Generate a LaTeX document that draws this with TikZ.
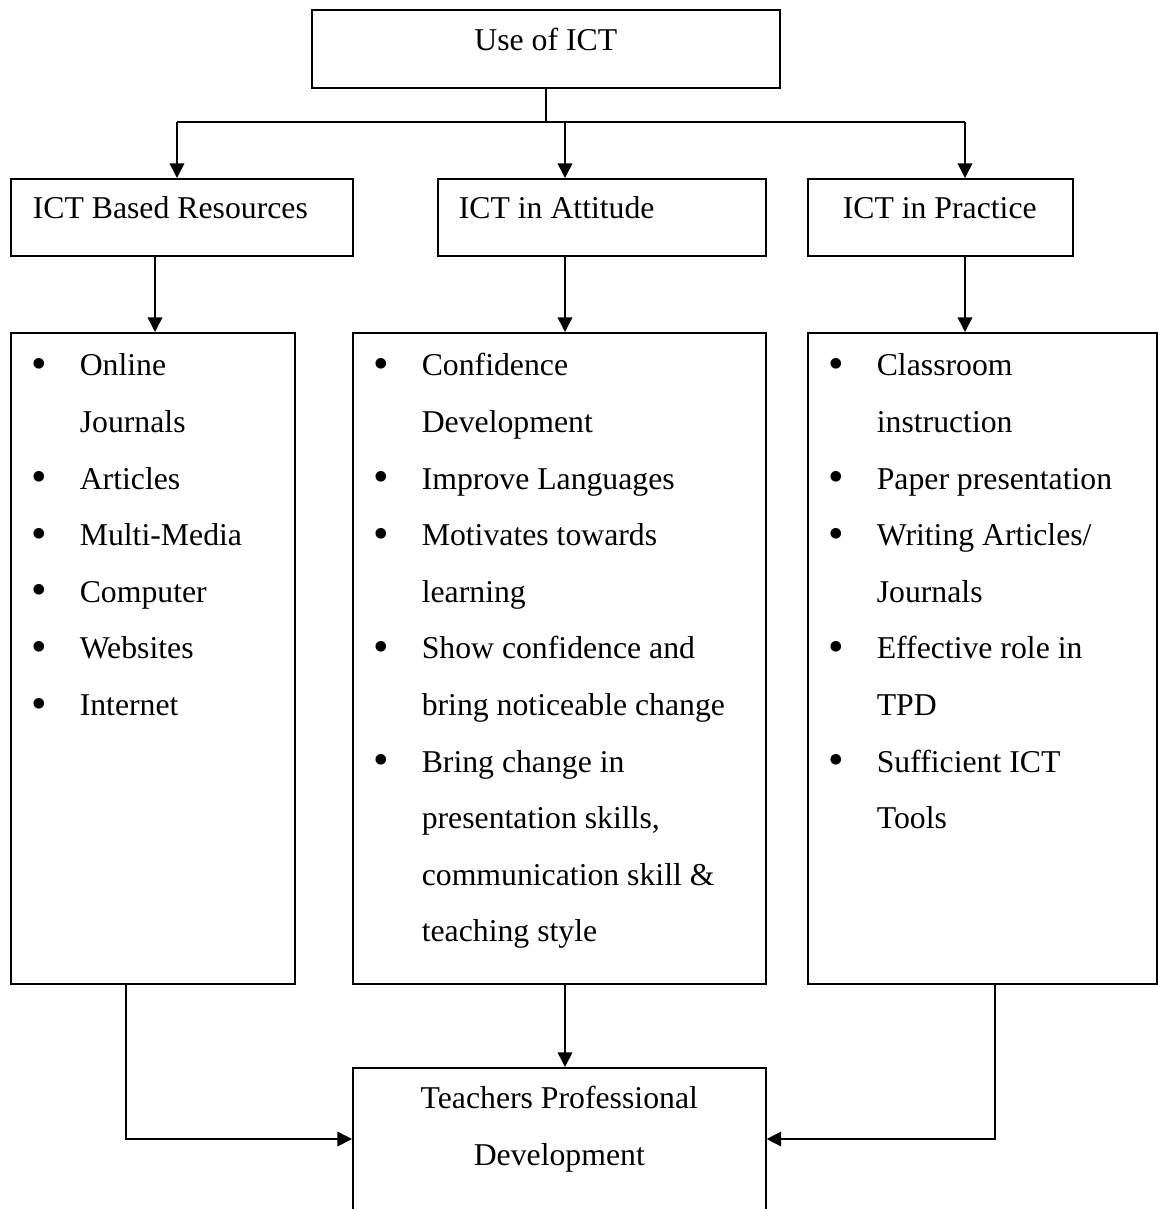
\documentclass[tikz,border=0pt]{standalone}
\usepackage{fontspec}
\setmainfont{Liberation Serif}
\usetikzlibrary{arrows.meta}
\newlength\pxu
\setlength\pxu{0.378pt}
% bullet line with hanging indent
\newcommand\bitem[1]{\par\noindent\hangindent=69\pxu\hangafter=1%
  \makebox[69\pxu][l]{\rule{0pt}{43\pxu}\hspace*{20.5\pxu}\raisebox{-1pt}{\scalebox{1.4}{\textbullet}}}#1}

\begin{document}
\begin{tikzpicture}[x=0.378pt,y=-0.378pt,
	font=\fontsize{12pt}{21.4pt}\selectfont,
	box/.style={draw,line width=0.6pt,inner sep=0pt,anchor=north west},
	arr/.style={line width=0.6pt,-{Triangle[length=5.5pt,width=5.5pt]}}]
	\useasboundingbox (0,0) rectangle (1157,1209);
	
	% draw top box
	\node[box] (use) at (311,9) {\parbox[t][78\pxu][t]{468\pxu}{\centering\rule{0pt}{41\pxu}Use of ICT}};
	
	% draw second row
	\node[box] (res) at (10,178) {\parbox[t][77\pxu][t]{342\pxu}{\noindent\hspace*{22\pxu}\rule{0pt}{40\pxu}ICT Based Resources}};
	\node[box] (att) at (437,178) {\parbox[t][77\pxu][t]{328\pxu}{\noindent\hspace*{21\pxu}\rule{0pt}{40\pxu}ICT in Attitude}};
	\node[box] (pra) at (807,178) {\parbox[t][77\pxu][t]{265\pxu}{\noindent\hspace*{35\pxu}\rule{0pt}{40\pxu}ICT in Practice}};
	
	% draw lists
	\node[box] (reslist) at (10,332) {\parbox[t][651\pxu][t]{284\pxu}{\raggedright
		\bitem{Online\newline Journals}
		\bitem{Articles}
		\bitem{Multi-Media}
		\bitem{Computer}
		\bitem{Websites}
		\bitem{Internet}}};
	\node[box] (attlist) at (352,332) {\parbox[t][651\pxu][t]{413\pxu}{\raggedright
		\bitem{Confidence\newline Development}
		\bitem{Improve Languages}
		\bitem{Motivates towards\newline learning}
		\bitem{Show confidence and\newline bring noticeable change}
		\bitem{Bring change in\newline presentation skills,\newline communication skill \&\newline teaching style}}};
	\node[box] (pralist) at (807,332) {\parbox[t][651\pxu][t]{349\pxu}{\raggedright
		\bitem{Classroom\newline instruction}
		\bitem{Paper presentation}
		\bitem{Writing Articles/\newline Journals}
		\bitem{Effective role in\newline TPD}
		\bitem{Sufficient ICT\newline Tools}}};
	
	% draw bottom box
	\node[box] (tpd) at (352,1067) {\parbox[t][160\pxu][t]{413\pxu}{\centering\rule{0pt}{41\pxu}Teachers Professional\\Development}};
	
	% junction points
	\coordinate (c1) at (177,122);
	\coordinate (c2) at (565,122);
	\coordinate (c3) at (965,122);
	\coordinate (k1) at (155,0);
	\coordinate (c4) at (126,1139);
	\coordinate (c5) at (995,1139);
	
	% draw arrows
	\draw[line width=0.6pt] (use.south) -- (use.south |- c1);
	\draw[line width=0.6pt] (c1) -- (c3);
	\foreach \c/\n in {c1/res,c2/att,c3/pra}
	\draw[arr] (\c) -- (\c |- \n.north);
	
	\draw[arr] (k1 |- res.south) -- (k1 |- reslist.north);
	\draw[arr] (c2 |- att.south) -- (c2 |- attlist.north);
	\draw[arr] (c3 |- pra.south) -- (c3 |- pralist.north);
	
	\draw[arr] (c4 |- reslist.south) -- (c4) -- (c4 -| tpd.west);
	\draw[arr] (c2 |- attlist.south) -- (c2 |- tpd.north);
	\draw[arr] (c5 |- pralist.south) -- (c5) -- (c5 -| tpd.east);
\end{tikzpicture}
\end{document}
